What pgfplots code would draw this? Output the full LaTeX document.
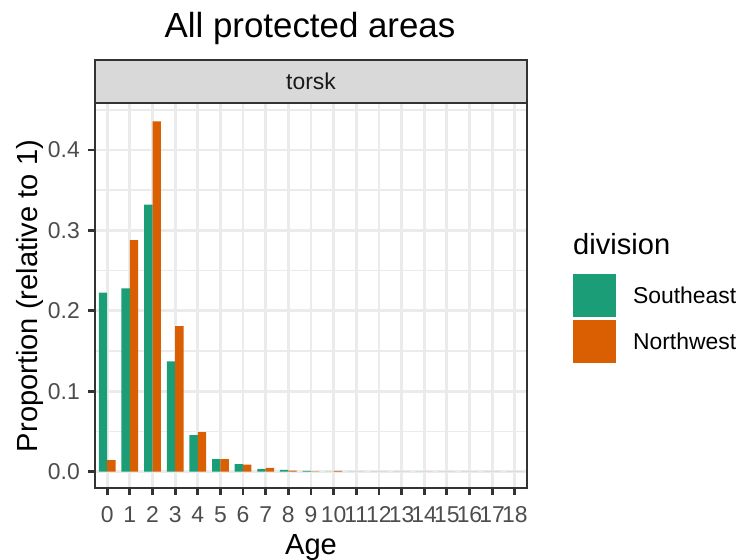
\documentclass[border=0pt]{standalone}
\usepackage{pgfplots}
\pgfplotsset{compat=1.18}
\usepackage{fontspec}
\setmainfont{Liberation Sans}
\definecolor{seg}{HTML}{1B9E77}
\definecolor{nwo}{HTML}{D95F02}
\definecolor{gridc}{HTML}{EBEBEB}
\definecolor{g20}{HTML}{333333}
\definecolor{g30}{HTML}{4D4D4D}
\definecolor{g85}{HTML}{D9D9D9}
\begin{document}
\begin{tikzpicture}[x=1bp,y=1bp]
\path[use as bounding box] (0,0) rectangle (743,560);
\begin{axis}[
  at={(95bp,72bp)}, anchor=south west,
  scale only axis, width=432bp, height=385bp,
  xmin=-0.54, xmax=18.54, ymin=-0.0205, ymax=0.4585,
  xtick={0,1,...,18}, ytick={0,0.1,0.2,0.3,0.4},
  yticklabels={0.0,0.1,0.2,0.3,0.4},
  minor ytick={0.05,0.15,0.25,0.35,0.45},
  grid=both,
  major grid style={gridc, line width=2.83bp},
  minor grid style={gridc, line width=1.41bp},
  axis line style={g20, line width=2.83bp},
  tick align=outside, tick pos=left,
  major tick length=7.3bp, minor tick length=0pt,
  major tick style={g20, line width=2.83bp},
  minor tick style={draw=none},
  /pgf/number format/assume math mode=true,
  tick label style={font=\fontsize{23}{27}\selectfont, text=g30, inner sep=0pt},
  yticklabel style={anchor=east, xshift=-7.7bp},
  xticklabel style={anchor=north, yshift=-11.4bp},
  ybar, bar width=0.37,
  legend cell align=left,
  legend style={at={(1.1065,0.5558)}, anchor=north west, draw=none, fill=none,
    inner sep=0pt, outer sep=0pt, row sep=3bp, column sep=17bp,
    font=\fontsize{23}{27}\selectfont,
    nodes={inner sep=0pt, outer sep=0pt}},
  legend image code/.code={\fill[draw=none] (0bp,-21.5bp) rectangle (43bp,21.5bp);},
]
\addplot[fill=seg, draw=none, bar shift=-0.185] coordinates {
 (0,0.2225) (1,0.228) (2,0.332) (3,0.137) (4,0.0454) (5,0.0155) (6,0.0092)
 (7,0.003) (8,0.002) (9,0.0007) (10,0) (11,0) (12,0) (13,0) (14,0) (15,0) (16,0) (17,0) (18,0)};
\addlegendentry{Southeast}
\addplot[fill=nwo, draw=none, bar shift=0.185] coordinates {
 (0,0.0142) (1,0.288) (2,0.4355) (3,0.181) (4,0.049) (5,0.0155) (6,0.0087)
 (7,0.0045) (8,0.001) (9,0.0003) (10,0.0008) (11,0) (12,0) (13,0) (14,0) (15,0) (16,0) (17,0) (18,0)};
\addlegendentry{Northwest}
\end{axis}
\filldraw[fill=g85, draw=g20, line width=2.83bp] (95,457) rectangle (527,500);
\node[text=black!90, font=\fontsize{23}{27}\selectfont] at (311,478.5) {torsk};
\node[anchor=base, font=\fontsize{35}{40}\selectfont] at (310,522) {All protected areas};
\node[anchor=base, font=\fontsize{29.2}{34}\selectfont] at (311,5) {Age};
\node[anchor=base, rotate=90, font=\fontsize{29.2}{34}\selectfont] at (37,264) {Proportion (relative to 1)};
\node[anchor=base west, inner sep=0pt, font=\fontsize{29.2}{34}\selectfont] at (573,305) {division};
\end{tikzpicture}
\end{document}
